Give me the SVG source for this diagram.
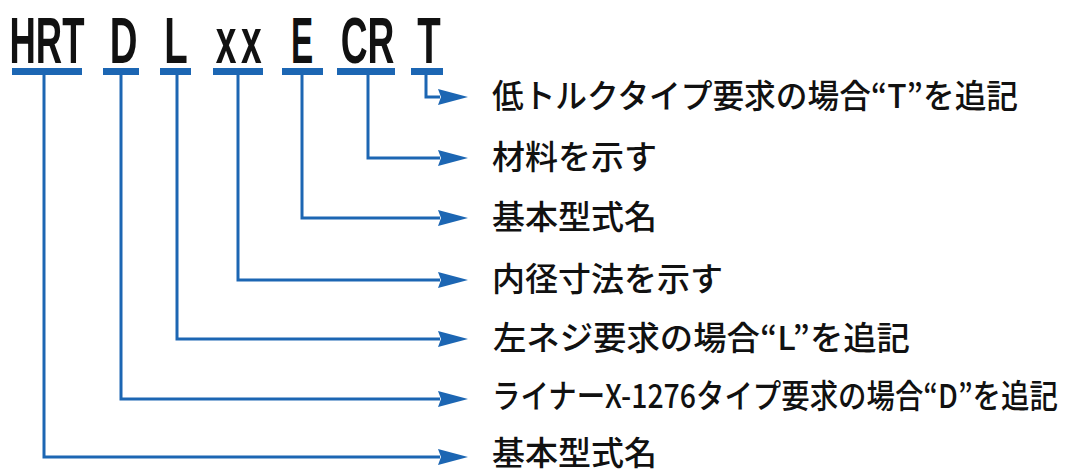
<svg xmlns="http://www.w3.org/2000/svg" width="1073" height="473" viewBox="0 0 1073 473">
<style>
.code{font-family:"Liberation Sans",Arial,sans-serif;font-weight:bold;font-size:64px;fill:#111;text-anchor:middle}
.bar{fill:#1c66b3}
.lbl{font-family:"Noto Sans CJK JP","Noto Sans",sans-serif;font-size:33px;font-weight:500;fill:#111}
.conn{fill:none;stroke:#1c66b3;stroke-width:3}
</style>
<defs>
<marker id="ah" markerUnits="userSpaceOnUse" markerWidth="32" markerHeight="18" viewBox="0 0 32 18" refX="2" refY="9" orient="auto">
<path d="M0,1 L30,9 L0,17 L3,9 Z" fill="#1c66b3"/>
</marker>
</defs>
<rect width="1073" height="473" fill="#fff"/>
<g id="node-HRT">
<text class="code" transform="translate(47,63) scale(0.57,1)">HRT</text>
<rect class="bar" x="12" y="68" width="70" height="7"/>
</g>
<g id="node-D">
<text class="code" transform="translate(123.5,63) scale(0.6,1)">D</text>
<rect class="bar" x="103" y="68" width="36" height="7"/>
</g>
<g id="node-L">
<text class="code" transform="translate(176,63) scale(0.6,1)">L</text>
<rect class="bar" x="160" y="68" width="31" height="7"/>
</g>
<g id="node-xx">
<text class="code" transform="translate(241,63) scale(0.58,1)" letter-spacing="8">xx</text>
<rect class="bar" x="213" y="68" width="50" height="7"/>
</g>
<g id="node-E">
<text class="code" transform="translate(302,63) scale(0.52,1)">E</text>
<rect class="bar" x="282" y="68" width="41" height="7"/>
</g>
<g id="node-CR">
<text class="code" transform="translate(367.5,63) scale(0.58,1)">CR</text>
<rect class="bar" x="337" y="68" width="58" height="7"/>
</g>
<g id="node-T">
<text class="code" transform="translate(429,63) scale(0.6,1)">T</text>
<rect class="bar" x="411" y="68" width="32" height="7"/>
</g>
<g id="connectors">
<path class="conn" d="M426,75 V97 H440" marker-end="url(#ah)"/>
<path class="conn" d="M368,75 V158 H440" marker-end="url(#ah)"/>
<path class="conn" d="M302,75 V218 H440" marker-end="url(#ah)"/>
<path class="conn" d="M238,75 V280 H440" marker-end="url(#ah)"/>
<path class="conn" d="M177,75 V339 H440" marker-end="url(#ah)"/>
<path class="conn" d="M121,75 V399 H440" marker-end="url(#ah)"/>
<path class="conn" d="M44,75 V457 H440" marker-end="url(#ah)"/>
</g>
<g id="label-T"><text class="lbl" x="492" y="108" textLength="526" lengthAdjust="spacingAndGlyphs">低トルクタイプ要求の場合“T”を追記</text></g>
<g id="label-CR"><text class="lbl" x="492" y="169">材料を示す</text></g>
<g id="label-E"><text class="lbl" x="492" y="229">基本型式名</text></g>
<g id="label-xx"><text class="lbl" x="492" y="291">内径寸法を示す</text></g>
<g id="label-L"><text class="lbl" x="493" y="350" textLength="417" lengthAdjust="spacingAndGlyphs">左ネジ要求の場合“L”を追記</text></g>
<g id="label-D"><text class="lbl" transform="translate(492,408) scale(0.88,1)" textLength="643" lengthAdjust="spacingAndGlyphs">ライナーX-1276タイプ要求の場合“D”を追記</text></g>
<g id="label-HRT"><text class="lbl" x="492" y="465">基本型式名</text></g>
</svg>
